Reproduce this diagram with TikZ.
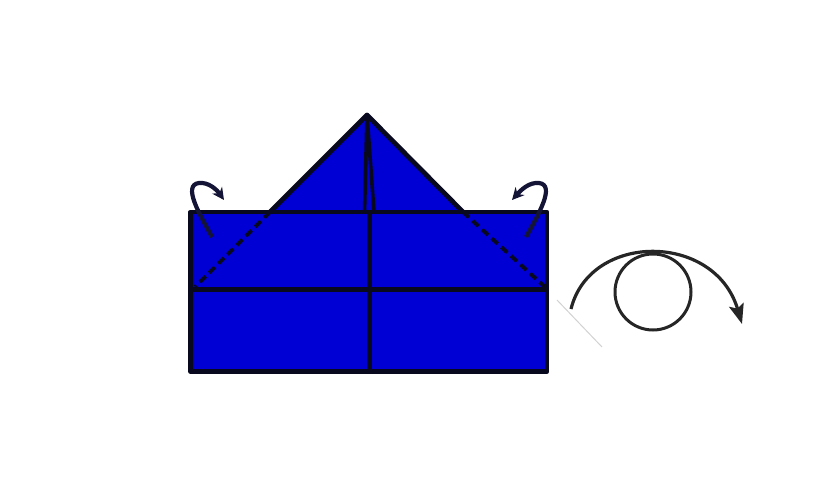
\documentclass[tikz,border=0pt]{standalone}
\usetikzlibrary{arrows.meta}
\definecolor{paperblue}{RGB}{0,0,212}
\definecolor{edge}{RGB}{8,8,30}
\definecolor{navy}{RGB}{20,20,55}
\tikzset{
  fold/.style={line width=4.8pt, edge, line join=round},
  valley/.style={line width=3.8pt, edge, dash pattern=on 8pt off 5pt},
  smallarrow/.style={line width=4.2pt, navy, -{Stealth[length=12pt,width=12pt]}},
  turnarrow/.style={line width=3.2pt, black!85, -{Stealth[length=20pt,width=15pt,inset=4pt]}},
}
\begin{document}
\begin{tikzpicture}[x=1pt,y=-1pt]
\useasboundingbox (0,0) rectangle (830,500);
% key points
\coordinate (TL) at (190.5,212);
\coordinate (BR) at (547,371.5);
\coordinate (apex) at (367,115);
\coordinate (lb) at (270,212);
\coordinate (rb) at (463,212);
\coordinate (ld) at (195,287);
\coordinate (rd) at (545,287);
% paper
\fill[paperblue] (TL) rectangle (BR);
\fill[paperblue] (apex) -- (lb) -- (rb) -- cycle;
\draw[fold] (TL) rectangle (BR);
\draw[fold] (190.5,289.5) -- (547,289.5);
\draw[fold] (369.5,212) -- (369.5,371.5);
\draw[fold] (lb) -- (apex) -- (rb);
\draw[line width=3.6pt, edge, line join=round] (364.5,212) -- (apex) -- (374,212);
\draw[valley] (lb) -- (ld);
\draw[valley] (rb) -- (rd);
% small fold arrows
\draw[smallarrow] (212,237) .. controls (200,215) and (182,185) .. (199,183) .. controls (209,182) and (217,190) .. (224,200);
\draw[smallarrow] (526,237) .. controls (538,215) and (556,185) .. (539,183) .. controls (529,182) and (521,190) .. (512,200);
% turn over symbol
\draw[gray!35, line width=1pt] (557,300) -- (602,347);
\draw[line width=3pt, black!85] (653,292) circle[radius=38];
\draw[turnarrow] (571,309) .. controls (590,232) and (715,232) .. (742,324);
\end{tikzpicture}
\end{document}
